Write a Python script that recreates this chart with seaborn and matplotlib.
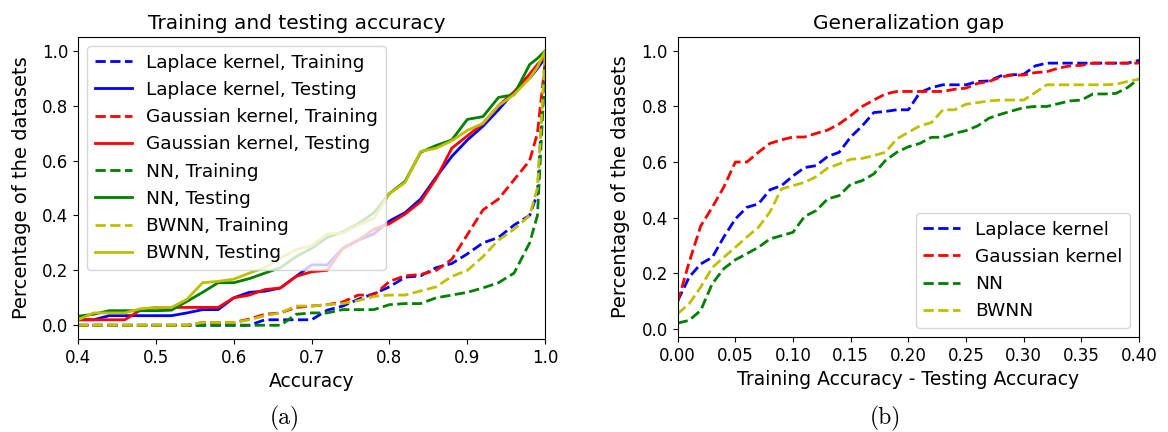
import numpy as np
import matplotlib
matplotlib.use('Agg')
import matplotlib.pyplot as plt
import seaborn as sns

# (a) fraction of datasets with accuracy <= x
acc = [0.40, 0.42, 0.44, 0.46, 0.48, 0.50, 0.52, 0.54, 0.56, 0.58,
       0.60, 0.62, 0.64, 0.66, 0.68, 0.70, 0.72, 0.74, 0.76, 0.78,
       0.80, 0.82, 0.84, 0.86, 0.88, 0.90, 0.92, 0.94, 0.96, 0.98,
       0.99, 1.00]

lap_train = [0, 0, 0, 0, 0, 0, 0, 0, 0, 0,
             0, 0, 0.02, 0.02, 0.02, 0.02, 0.055, 0.07, 0.095, 0.115,
             0.14, 0.175, 0.18, 0.21, 0.225, 0.26, 0.30, 0.32, 0.365, 0.40,
             0.48, 0.97]
lap_test = [0.02, 0.02, 0.035, 0.035, 0.035, 0.035, 0.035, 0.045, 0.057, 0.057,
            0.10, 0.12, 0.124, 0.136, 0.178, 0.22, 0.22, 0.28, 0.31, 0.333,
            0.38, 0.41, 0.46, 0.54, 0.615, 0.675, 0.725, 0.785, 0.85, 0.90,
            0.935, 0.975]
gau_train = [0, 0, 0, 0, 0, 0, 0, 0, 0.01, 0.01,
             0.01, 0.023, 0.04, 0.045, 0.065, 0.07, 0.075, 0.085, 0.11, 0.11,
             0.16, 0.18, 0.185, 0.20, 0.24, 0.33, 0.42, 0.46, 0.53, 0.60,
             0.70, 0.96]
gau_test = [0.02, 0.02, 0.02, 0.02, 0.055, 0.065, 0.065, 0.065, 0.065, 0.065,
            0.10, 0.11, 0.13, 0.136, 0.178, 0.195, 0.20, 0.28, 0.31, 0.35,
            0.37, 0.405, 0.45, 0.535, 0.645, 0.69, 0.735, 0.80, 0.85, 0.915,
            0.95, 0.98]
nn_train = [0, 0, 0, 0, 0, 0, 0, 0, 0, 0,
            0, 0, 0, 0, 0.04, 0.045, 0.045, 0.057, 0.057, 0.057,
            0.075, 0.079, 0.079, 0.10, 0.11, 0.12, 0.136, 0.155, 0.19, 0.30,
            0.40, 0.95]
nn_test = [0.033, 0.04, 0.053, 0.053, 0.053, 0.053, 0.055, 0.087, 0.12, 0.155,
           0.155, 0.17, 0.19, 0.21, 0.25, 0.28, 0.32, 0.34, 0.37, 0.41,
           0.48, 0.524, 0.63, 0.655, 0.675, 0.75, 0.76, 0.83, 0.84, 0.95,
           0.972, 1.0]
bw_train = [0, 0, 0, 0, 0, 0, 0, 0, 0.01, 0.01,
            0.01, 0.02, 0.035, 0.045, 0.07, 0.07, 0.075, 0.079, 0.09, 0.105,
            0.11, 0.11, 0.125, 0.14, 0.178, 0.20, 0.25, 0.31, 0.35, 0.40,
            0.50, 0.99]
bw_test = [0.02, 0.045, 0.045, 0.045, 0.06, 0.065, 0.065, 0.095, 0.155, 0.16,
           0.168, 0.19, 0.21, 0.245, 0.275, 0.29, 0.332, 0.336, 0.365, 0.39,
           0.48, 0.52, 0.633, 0.645, 0.672, 0.71, 0.735, 0.80, 0.84, 0.90,
           0.94, 1.0]

# (b) fraction of datasets with gap <= x
gap = [0.00, 0.01, 0.02, 0.03, 0.04, 0.05, 0.06, 0.07, 0.08, 0.09,
       0.10, 0.11, 0.12, 0.13, 0.14, 0.15, 0.16, 0.17, 0.18, 0.19,
       0.20, 0.21, 0.22, 0.23, 0.24, 0.25, 0.26, 0.27, 0.28, 0.29,
       0.30, 0.31, 0.32, 0.33, 0.34, 0.35, 0.36, 0.37, 0.38, 0.39, 0.40]

lap_gap = [0.10, 0.186, 0.233, 0.257, 0.33, 0.395, 0.437, 0.449, 0.50, 0.515,
           0.55, 0.58, 0.587, 0.62, 0.635, 0.69, 0.73, 0.778, 0.782, 0.788,
           0.788, 0.85, 0.868, 0.878, 0.878, 0.878, 0.89, 0.892, 0.91, 0.914,
           0.916, 0.946, 0.956, 0.956, 0.956, 0.956, 0.956, 0.956, 0.956, 0.956,
           0.966]
gau_gap = [0.096, 0.24, 0.37, 0.437, 0.51, 0.60, 0.60, 0.635, 0.667, 0.68,
           0.69, 0.69, 0.703, 0.715, 0.737, 0.767, 0.80, 0.823, 0.845, 0.854,
           0.854, 0.854, 0.854, 0.854, 0.862, 0.866, 0.883, 0.89, 0.906, 0.913,
           0.913, 0.922, 0.925, 0.938, 0.946, 0.948, 0.956, 0.956, 0.956, 0.956,
           0.956]
nn_gap = [0.02, 0.03, 0.066, 0.162, 0.216, 0.248, 0.27, 0.293, 0.323, 0.335,
          0.347, 0.404, 0.425, 0.467, 0.479, 0.52, 0.533, 0.557, 0.605, 0.635,
          0.655, 0.667, 0.689, 0.689, 0.703, 0.713, 0.73, 0.758, 0.772, 0.784,
          0.796, 0.80, 0.80, 0.81, 0.82, 0.823, 0.845, 0.845, 0.847, 0.868,
          0.90]
bw_gap = [0.054, 0.09, 0.15, 0.22, 0.257, 0.293, 0.33, 0.365, 0.42, 0.503,
          0.515, 0.527, 0.547, 0.578, 0.593, 0.61, 0.613, 0.623, 0.635, 0.683,
          0.707, 0.73, 0.742, 0.788, 0.788, 0.808, 0.814, 0.82, 0.823, 0.823,
          0.823, 0.85, 0.878, 0.878, 0.878, 0.878, 0.878, 0.878, 0.88, 0.89,
          0.898]

fig = plt.figure(figsize=(11.68, 4.32), dpi=100)
ax1 = fig.add_axes([0.0668, 0.2153, 0.400, 0.699])
ax2 = fig.add_axes([0.5802, 0.2199, 0.395, 0.6944])

left_series = [
    (lap_train, 'b', '--', 'Laplace kernel, Training'),
    (lap_test, 'b', '-', 'Laplace kernel, Testing'),
    (gau_train, 'r', '--', 'Gaussian kernel, Training'),
    (gau_test, 'r', '-', 'Gaussian kernel, Testing'),
    (nn_train, 'g', '--', 'NN, Training'),
    (nn_test, 'g', '-', 'NN, Testing'),
    (bw_train, 'y', '--', 'BWNN, Training'),
    (bw_test, 'y', '-', 'BWNN, Testing'),
]
for vals, c, ls, lab in left_series:
    sns.lineplot(x=acc, y=vals, color=c, linestyle=ls, lw=2, label=lab, ax=ax1)

ax1.set_xlim(0.4, 1.0)
ax1.set_ylim(-0.05, 1.05)
ax1.set_xticks(np.arange(0.4, 1.01, 0.1))
ax1.set_yticks(np.arange(0, 1.01, 0.2))
ax1.tick_params(labelsize=12)
ax1.set_xlabel('Accuracy', fontsize=13.5)
ax1.set_ylabel('Percentage of the datasets', fontsize=14, labelpad=8)
ax1.set_title('Training and testing accuracy', fontsize=14.5, x=0.468)
ax1.legend(loc='upper left', fontsize=13.3)

right_series = [
    (lap_gap, 'b', 'Laplace kernel'),
    (gau_gap, 'r', 'Gaussian kernel'),
    (nn_gap, 'g', 'NN'),
    (bw_gap, 'y', 'BWNN'),
]
for vals, c, lab in right_series:
    sns.lineplot(x=gap, y=vals, color=c, linestyle='--', lw=2, label=lab, ax=ax2)

ax2.set_xlim(0, 0.4)
ax2.set_ylim(-0.03, 1.05)
ax2.set_xticks(np.arange(0, 0.401, 0.05))
ax2.set_yticks(np.arange(0, 1.01, 0.2))
ax2.tick_params(labelsize=12)
ax2.set_xlabel('Training Accuracy - Testing Accuracy', fontsize=13.5)
ax2.set_ylabel('Percentage of the datasets', fontsize=14, labelpad=8)
ax2.set_title('Generalization gap', fontsize=14.5)
ax2.legend(loc='lower right', fontsize=13.3)

fig.text(0.244, 0.032, '(a)', family='cmr10', fontsize=17, ha='center', va='center')
fig.text(0.758, 0.032, '(b)', family='cmr10', fontsize=17, ha='center', va='center')

fig.savefig('out.png', dpi=100)
